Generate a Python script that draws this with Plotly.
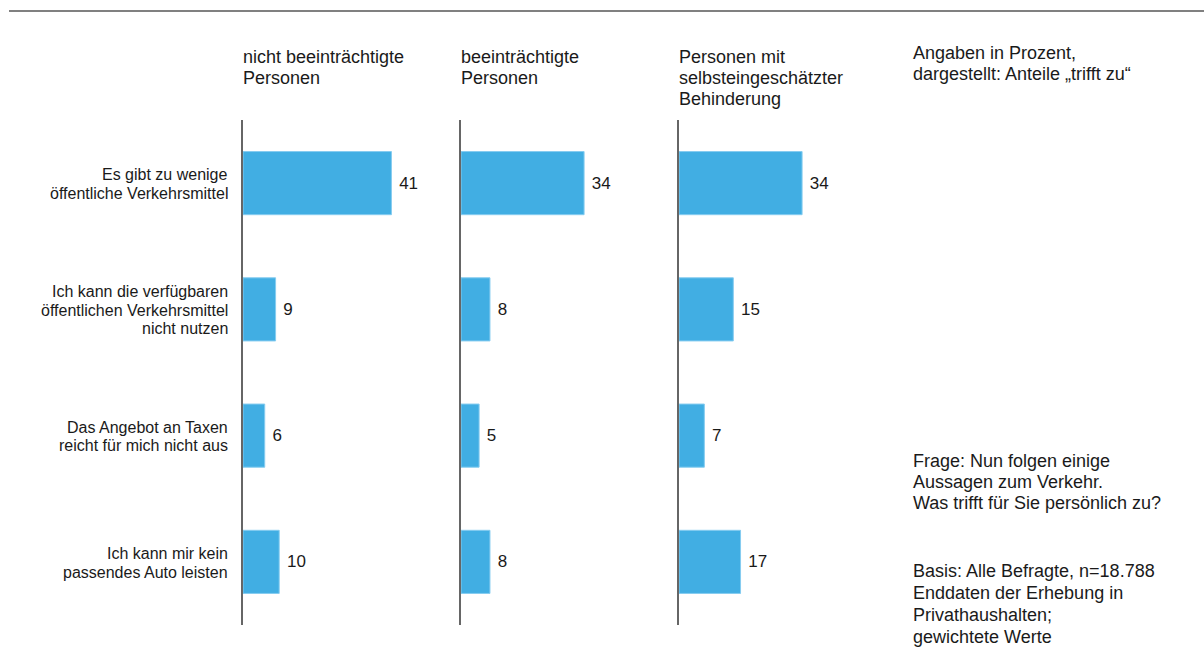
import plotly.graph_objects as go

# ---- data ----
categories = [
    "Es gibt zu wenige<br>öffentliche Verkehrsmittel",
    "Ich kann die verfügbaren<br>öffentlichen Verkehrsmittel<br>nicht nutzen",
    "Das Angebot an Taxen<br>reicht für mich nicht aus",
    "Ich kann mir kein<br>passendes Auto leisten",
]
group_titles = [
    ["nicht beeinträchtigte", "Personen"],
    ["beeinträchtigte", "Personen"],
    ["Personen mit", "selbsteingeschätzter", "Behinderung"],
]
values_nicht = [41, 9, 6, 10]
values_beein = [34, 8, 5, 8]
values_selbst = [34, 15, 7, 17]
series = [values_nicht, values_beein, values_selbst]

note_top = ["Angaben in Prozent,", "dargestellt: Anteile „trifft zu“"]
note_frage = ["Frage: Nun folgen einige", "Aussagen zum Verkehr.", "Was trifft für Sie persönlich zu?"]
note_basis = ["Basis: Alle Befragte, n=18.788", "Enddaten der Erhebung in", "Privathaushalten;", "gewichtete Werte"]

# ---- layout constants ----
W, H = 1204, 654
FONT = "Liberation Sans, Arial, sans-serif"
TXT = "#1a1a1a"
BAR = "#41aee3"
axis_left_px = [243, 461, 679]
panel_w_px = 200
px_per_unit = 3.62
y_top_px, y_bot_px = 120, 625

fig = go.Figure()
ydom = [(H - y_bot_px) / H, (H - y_top_px) / H]

for i, vals in enumerate(series):
    n = "" if i == 0 else str(i + 1)
    fig.add_trace(go.Bar(
        x=vals, y=categories, orientation="h",
        xaxis="x" + n, yaxis="y" + n,
        width=0.5,
        marker=dict(color=BAR, line=dict(color="#86ccf0", width=1)),
        text=vals, texttemplate="\u00a0%{x}", textposition="outside",
        textfont=dict(size=17, color=TXT, family=FONT),
        cliponaxis=False, showlegend=False, hoverinfo="skip",
    ))
    x0 = axis_left_px[i] / W
    x1 = (axis_left_px[i] + panel_w_px) / W
    fig.layout["xaxis" + n] = dict(
        domain=[x0, x1], range=[0, panel_w_px / px_per_unit],
        visible=False, anchor="y" + n, fixedrange=True,
    )
    fig.layout["yaxis" + n] = dict(
        domain=ydom, anchor="x" + n,
        type="category", categoryorder="array", categoryarray=categories,
        range=[3.5, -0.5],
        showline=True, linecolor="#666666", linewidth=2,
        showgrid=False, zeroline=False, ticks="",
        showticklabels=False,
        automargin=False, fixedrange=True,
    )

annotations = []

# category labels, placed on the first y axis (one annotation per text line for tight spacing)
LINE_CAT = 18.5
for cat in categories:
    parts = cat.split("<br>")
    nlines = len(parts)
    for j, part in enumerate(parts):
        annotations.append(dict(
            text=part, xref="paper", x=229 / W, yref="y", y=cat,
            yshift=-(j - (nlines - 1) / 2) * LINE_CAT - 1,
            xanchor="right", yanchor="middle", showarrow=False, borderpad=0,
            font=dict(size=16, color=TXT, family=FONT),
        ))

def add_lines(lines, x_px, y_px_list, size=18):
    for line, ypx in zip(lines, y_px_list):
        annotations.append(dict(
            text=line, x=x_px / W, y=(H - ypx) / H, xref="paper", yref="paper",
            xanchor="left", yanchor="middle", showarrow=False, borderpad=0,
            font=dict(size=size, color=TXT, family=FONT),
        ))

header_y = [57, 78, 99]
for i, title in enumerate(group_titles):
    add_lines(title, axis_left_px[i] - 1, header_y)
add_lines(note_top, 912, [53, 74])
add_lines(note_frage, 912, [461, 482, 503])
add_lines(note_basis, 912, [571, 593, 615, 637])

fig.update_layout(
    width=W, height=H,
    margin=dict(l=0, r=0, t=0, b=0),
    paper_bgcolor="white", plot_bgcolor="white",
    template="none",
    bargap=0.5,
    annotations=annotations,
    shapes=[dict(type="line", xref="paper", yref="paper",
                 x0=9 / W, x1=1, y0=(H - 11) / H, y1=(H - 11) / H,
                 line=dict(color="#808080", width=2))],
    font=dict(family=FONT),
)

fig.write_html(
    "out.html",
    config={"displayModeBar": False},
    post_script="document.body.style.margin='0';document.body.style.overflow='hidden';",
)
